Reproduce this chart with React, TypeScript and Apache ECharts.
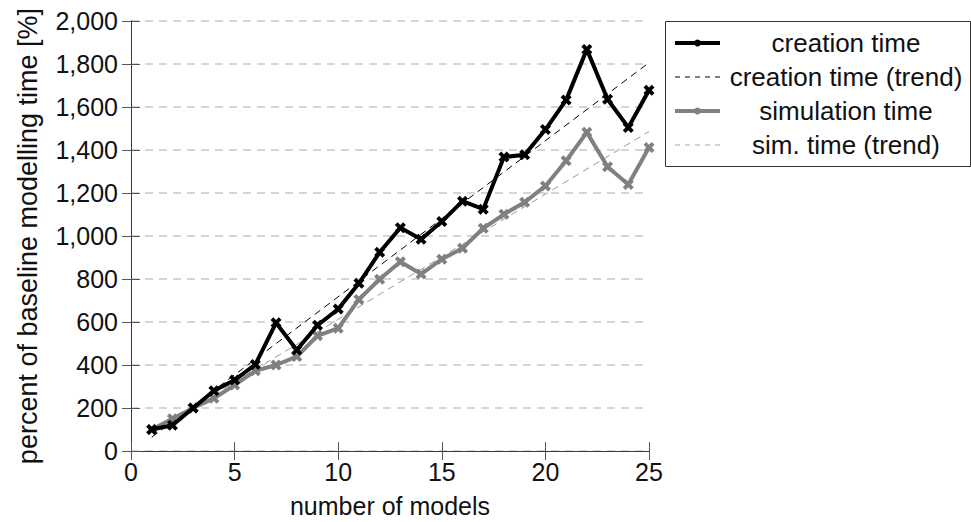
import React, { useEffect, useRef } from "react";
import * as echarts from "echarts";

const models = [1, 2, 3, 4, 5, 6, 7, 8, 9, 10, 11, 12, 13, 14, 15, 16, 17, 18, 19, 20, 21, 22, 23, 24, 25];
const creationTime = [100, 120, 200, 280, 330, 402, 596, 470, 585, 660, 780, 924, 1038, 985, 1067, 1162, 1125, 1367, 1378, 1495, 1632, 1868, 1636, 1505, 1678];
const simulationTime = [100, 150, 200, 245, 307, 373, 400, 439, 536, 571, 705, 799, 880, 823, 892, 943, 1036, 1101, 1157, 1233, 1350, 1482, 1322, 1240, 1412];
const creationTrendX = [1, 25];
const creationTrendY = [64, 1806];
const simTrendX = [1, 25];
const simTrendY = [88, 1486];
const xTicks = [0, 5, 10, 15, 20, 25];
const yTicks = [0, 200, 400, 600, 800, 1000, 1200, 1400, 1600, 1800, 2000];
const legendLabels = ["creation time", "creation time (trend)", "simulation time", "sim. time (trend)"];

const FONT = "'Liberation Sans', Arial, Helvetica, sans-serif";
const XMARK = "path://M0,2.5 L2.5,0 L5,2.5 L7.5,0 L10,2.5 L7.5,5 L10,7.5 L7.5,10 L5,7.5 L2.5,10 L0,7.5 L2.5,5 Z";

export default function App() {
  const ref = useRef<HTMLDivElement>(null);
  useEffect(() => {
    if (!ref.current) return;
    const chart = echarts.init(ref.current, undefined, { renderer: "svg" });
    const pair = (xs: number[], ys: number[]) => xs.map((x, i) => [x, ys[i]]);
    const axisLine = { show: true, lineStyle: { color: "#3a3a3a", width: 1 } };
    const tick = { show: true, inside: true, length: 9, lineStyle: { color: "#555", width: 1 } };

    const legX0 = 665, legY0 = 21, legW = 305, legH = 145;
    const rowY = [43, 77, 111, 145];
    const legStyles = [
      { color: "#000", width: 4, dash: null as any, marker: true },
      { color: "#000", width: 1, dash: [5, 5], marker: false },
      { color: "#808080", width: 4, dash: null as any, marker: true },
      { color: "#a8a8a8", width: 1, dash: [5, 5], marker: false },
    ];
    const graphics: any[] = [
      { type: "rect", shape: { x: legX0 + 0.5, y: legY0 + 0.5, width: legW, height: legH }, style: { fill: "#fff", stroke: "#333", lineWidth: 1 }, z: 100 },
    ];
    legendLabels.forEach((lab, i) => {
      const s = legStyles[i];
      graphics.push({
        type: "line",
        shape: { x1: 675, y1: rowY[i], x2: 720, y2: rowY[i] },
        style: { stroke: s.color, lineWidth: s.width, lineDash: s.dash || undefined },
        z: 101,
      });
      if (s.marker) {
        graphics.push({
          type: "circle",
          shape: { cx: 697.5, cy: rowY[i], r: 3.5 },
          style: { fill: s.color },
          z: 102,
        });
      }
      graphics.push({
        type: "text",
        x: 846,
        y: rowY[i],
        style: { text: lab, font: `26px ${FONT}`, fill: "#111", align: "center", verticalAlign: "middle" },
        z: 102,
      });
    });

    chart.setOption({
      animation: false,
      backgroundColor: "#fff",
      textStyle: { fontFamily: FONT },
      grid: { left: 131, right: 322, top: 21, bottom: 71, containLabel: false, outerBoundsMode: "none" },
      xAxis: [
        {
          type: "value",
          min: xTicks[0],
          max: xTicks[xTicks.length - 1],
          interval: 5,
          name: "number of models",
          nameLocation: "middle",
          nameGap: 42,
          nameTextStyle: { fontSize: 25, color: "#111", fontFamily: FONT },
          axisLine,
          axisTick: tick,
          axisLabel: { fontSize: 25, color: "#111", margin: 8, fontFamily: FONT },
          splitLine: { show: false },
        },
        {
          type: "value",
          position: "top",
          min: xTicks[0],
          max: xTicks[xTicks.length - 1],
          interval: 5,
          axisLine,
          axisTick: tick,
          axisLabel: { show: false },
          splitLine: { show: false },
        },
      ],
      yAxis: [
        {
          type: "value",
          min: yTicks[0],
          max: yTicks[yTicks.length - 1],
          interval: 200,
          name: "percent of baseline modelling time [%]",
          nameLocation: "middle",
          nameGap: 90,
          nameTextStyle: { fontSize: 27, color: "#111", fontFamily: FONT },
          axisLine,
          axisTick: tick,
          axisLabel: {
            fontSize: 25,
            color: "#111",
            margin: 13,
            fontFamily: FONT,
            formatter: (v: number) => v.toLocaleString("en-US"),
          },
          splitLine: { show: true, lineStyle: { color: "#c8c8c8", width: 1.5, type: [8, 6] } },
        },
        {
          type: "value",
          position: "right",
          min: yTicks[0],
          max: yTicks[yTicks.length - 1],
          interval: 200,
          axisLine,
          axisTick: tick,
          axisLabel: { show: false },
          splitLine: { show: false },
        },
      ],
      series: [
        {
          name: "creation time (trend)",
          type: "line",
          data: pair(creationTrendX, creationTrendY),
          symbol: "none",
          lineStyle: { color: "#000", width: 1, type: [7, 5] },
          z: 3,
        },
        {
          name: "sim. time (trend)",
          type: "line",
          data: pair(simTrendX, simTrendY),
          symbol: "none",
          lineStyle: { color: "#999", width: 1, type: [7, 5] },
          z: 3,
        },
        {
          name: "simulation time",
          type: "line",
          data: pair(models, simulationTime),
          symbol: XMARK,
          symbolSize: 11,
          itemStyle: { color: "#808080" },
          lineStyle: { color: "#808080", width: 4 },
          z: 4,
        },
        {
          name: "creation time",
          type: "line",
          data: pair(models, creationTime),
          symbol: XMARK,
          symbolSize: 11,
          itemStyle: { color: "#000" },
          lineStyle: { color: "#000", width: 4 },
          z: 5,
        },
      ],
      graphic: graphics,
    });
    return () => chart.dispose();
  }, []);
  return <div ref={ref} style={{ position: "fixed", left: 0, top: 0, width: 971, height: 522 }} />;
}
